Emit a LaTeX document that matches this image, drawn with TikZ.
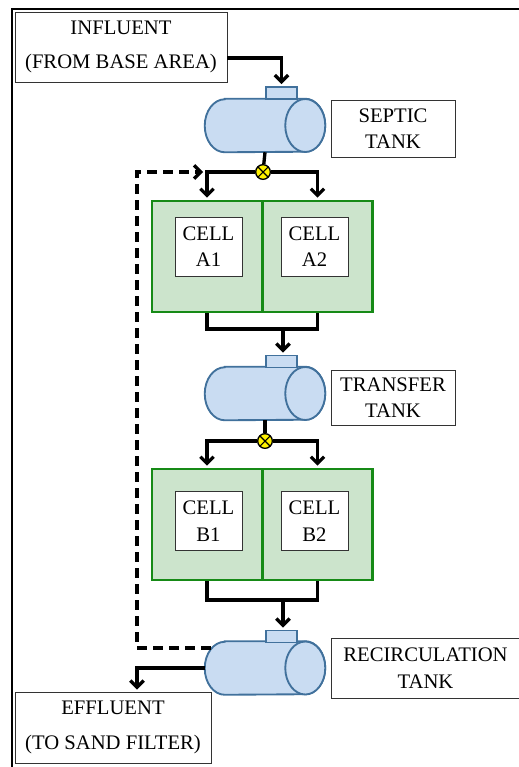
\documentclass[tikz,border=0pt]{standalone}
\usepackage{fontspec}
\setmainfont{Liberation Serif}
\usepackage{xcolor}
\usetikzlibrary{arrows.meta,positioning,calc}
\definecolor{tankfill}{HTML}{C9DCF2}
\definecolor{tankline}{HTML}{41719C}
\definecolor{cellfill}{HTML}{CCE4CC}
\definecolor{cellline}{HTML}{168A16}
\newcommand\tankbody[1]{%
  \filldraw[tankwall] ($(#1.north west)+(15pt,0pt)$) -- ($(#1.north east)+(-15pt,0pt)$)
    arc[start angle=90, end angle=-90, x radius=15pt, y radius=19.875pt]
    -- ($(#1.south west)+(15pt,0pt)$)
    arc[start angle=270, end angle=90, x radius=15pt, y radius=19.875pt] -- cycle;
  \draw[tankwall] ($(#1.east)+(-15pt,0pt)$) ellipse[x radius=15pt, y radius=19.875pt];}

\begin{document}
\begin{tikzpicture}[x=0.75pt, y=-0.75pt,
  box/.style={draw=black!80, line width=0.6pt, fill=white, align=center,
              font=\fontsize{15.5}{20}\selectfont, inner sep=0pt},
  tank/.style={minimum width=90pt, minimum height=39.75pt, inner sep=0pt},
  tankwall/.style={draw=tankline, fill=tankfill, line width=1.4pt},
  nozzle/.style={tankwall, minimum width=23.25pt, minimum height=9pt, inner sep=0pt},
  cell/.style={draw=cellline, fill=cellfill, line width=1.9pt,
               minimum width=82.5pt, minimum height=83.25pt, inner sep=0pt},
  valve/.style={circle, draw, fill=yellow, line width=1pt, minimum size=11pt, inner sep=0pt,
                path picture={\draw[line width=0.8pt]
                  (path picture bounding box.north west) -- (path picture bounding box.south east)
                  (path picture bounding box.south west) -- (path picture bounding box.north east);}},
  pipe/.style={line width=2.5pt},
  arrow/.style={pipe, -{Straight Barb[length=5pt,width=10pt]}, shorten >=1.5pt},
  recirc/.style={arrow, dash pattern=on 7pt off 5pt}
]
\useasboundingbox (0,0) rectangle (518,767);
\draw[line width=2.2pt] (12,772) -- (12,9) -- (522,9);

\node[box, minimum width=159pt, minimum height=52.5pt] (inf) at (121,47) {INFLUENT\\[6pt](FROM BASE AREA)};

\node[tank] (st) at (265,125.5) {};
\tankbody{st}
\node[nozzle] (sc) at (281.5,93) {};
\node[box, minimum width=93pt, minimum height=42.75pt] (stl) at (393,128.5) {SEPTIC\\TANK};
\node[valve] (va) at (263,172) {};

\node[cell] (ga1) at (207,256.5) {};
\node[cell] (ga2) at (317.5,256.5) {};
\node[box, minimum width=50.25pt, minimum height=44.25pt] (ca1) at (208.5,246.5) {CELL\\A1};
\node[box, minimum width=50.25pt, minimum height=44.25pt] (ca2) at (314.5,246.5) {CELL\\A2};

\node[tank] (tt) at (265,393.5) {};
\tankbody{tt}
\node[nozzle] (tc) at (281.5,361.5) {};
\node[box, minimum width=93pt, minimum height=41.25pt] (ttl) at (393,397.5) {TRANSFER\\TANK};
\node[valve] (vb) at (265,441) {};

\node[cell] (gb1) at (207,524.5) {};
\node[cell] (gb2) at (317.5,524.5) {};
\node[box, minimum width=50.25pt, minimum height=44.25pt] (cb1) at (208.5,521) {CELL\\B1};
\node[box, minimum width=50.25pt, minimum height=44.25pt] (cb2) at (314.5,521) {CELL\\B2};

\node[tank] (rt) at (265,668) {};
\tankbody{rt}
\node[nozzle] (rc) at (281.5,636.5) {};
\node[box, minimum width=141.75pt, minimum height=45pt] (rtl) at (425.5,668) {RECIRCULATION\\TANK};

\node[box, minimum width=147pt, minimum height=53.25pt] (eff) at (113,727.5) {EFFLUENT\\[6pt](TO SAND FILTER)};

\coordinate (ja) at (283,329);
\coordinate (jb) at (283,600);
\coordinate (rloop) at (137,172);

\draw[arrow] ($(inf.east)+(0,11)$) -| (sc.north);
\draw[pipe] (st.south) -- (va);
\draw[arrow] (va) -| (ga1.north);
\draw[arrow] (va) -| (ga2.north);
\draw[pipe] (ga1.south) |- (ja) -| (ga2.south);
\draw[arrow] (ja) -- (ja |- tc.north);
\draw[pipe] (tt.south) -- (vb);
\draw[arrow] (vb) -| (gb1.north);
\draw[arrow] (vb) -| (gb2.north);
\draw[pipe] (gb1.south) |- (jb) -| (gb2.south);
\draw[arrow] (jb) -- (jb |- rc.north);
\draw[recirc] ($(rt.west)+(6,-20)$) -| (rloop) -- ($(va -| ga1.north)+(-2,0)$);
\draw[arrow] (rt.west) -| (rloop |- eff.north);
\end{tikzpicture}
\end{document}
